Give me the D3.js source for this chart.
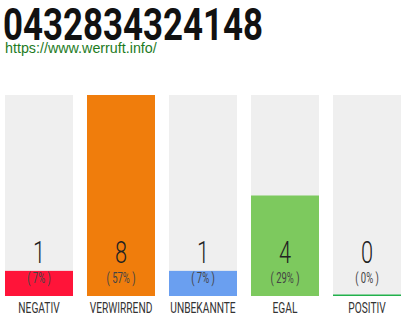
<!DOCTYPE html>
<html>
<head>
<meta charset="utf-8">
<script src="https://cdn.jsdelivr.net/npm/d3@7"></script>
<style>
  html, body { margin: 0; padding: 0; background: #fff; }
  svg { display: block; }
</style>
</head>
<body>
<svg id="chart" width="410" height="320"></svg>
<script>
// Rating summary for one phone number
const title = "0432834324148";
const siteUrl = "https://www.werruft.info/";
const categories = ["NEGATIV", "VERWIRREND", "UNBEKANNTE", "EGAL", "POSITIV"];
const counts = [1, 8, 1, 4, 0];
const percentLabels = ["( 7% )", "( 57% )", "( 7% )", "( 29% )", "( 0% )"];
const barColors = ["#ff1439", "#f07d0c", "#6a9ff0", "#7dc95e", "#22b14c"];

const svg = d3.select("#chart");

// Header
svg.append("text")
  .attr("x", 3).attr("y", 40)
  .attr("font-family", "Roboto, 'Liberation Sans', sans-serif")
  .attr("font-weight", 700)
  .attr("font-size", 44)
  .attr("textLength", 260)
  .attr("lengthAdjust", "spacingAndGlyphs")
  .attr("fill", "#111")
  .text(title);

svg.append("text")
  .attr("x", 5).attr("y", 53)
  .attr("font-family", "'Liberation Sans', Arial, sans-serif")
  .attr("font-size", 14.3)
  .attr("fill", "#1e7b1e")
  .text(siteUrl);

// Scales
const x = d3.scaleBand()
  .domain(categories)
  .range([5, 401])
  .paddingInner(14 / 82)
  .paddingOuter(0);

const y = d3.scaleLinear()
  .domain([0, d3.max(counts)])
  .range([296, 95]);

const data = categories.map((c, i) => ({
  cat: c, count: counts[i], pct: percentLabels[i], color: barColors[i]
}));

const g = svg.append("g");

// Background track for each column
g.selectAll("rect.track")
  .data(data)
  .join("rect")
  .attr("class", "track")
  .attr("x", d => x(d.cat))
  .attr("y", y(d3.max(counts)))
  .attr("width", x.bandwidth())
  .attr("height", y(0) - y(d3.max(counts)))
  .attr("fill", "#efefef");

// Value bars (zero still shows a thin line)
g.selectAll("rect.bar")
  .data(data)
  .join("rect")
  .attr("class", "bar")
  .attr("x", d => x(d.cat))
  .attr("y", d => Math.min(y(d.count), y(0) - 1.5))
  .attr("width", x.bandwidth())
  .attr("height", d => Math.max(y(0) - y(d.count), 1.5))
  .attr("fill", d => d.color);

const condensed = (sel, yPos) =>
  sel.attr("transform", d => `translate(${x(d.cat) + x.bandwidth() / 2},${yPos}) scale(0.68,1)`)
     .attr("text-anchor", "middle");

// Count
g.selectAll("text.count")
  .data(data)
  .join("text")
  .attr("class", "count")
  .call(condensed, 263)
  .attr("font-family", "Roboto, sans-serif")
  .attr("font-weight", 300)
  .attr("font-size", 32)
  .attr("fill", "#222")
  .text(d => d.count);

// Percent
g.selectAll("text.pct")
  .data(data)
  .join("text")
  .attr("class", "pct")
  .call(condensed, 283)
  .attr("font-family", "Roboto, sans-serif")
  .attr("font-weight", 400)
  .attr("font-size", 14)
  .attr("fill", "#444")
  .text(d => d.pct);

// Category label
g.selectAll("text.cat")
  .data(data)
  .join("text")
  .attr("class", "cat")
  .call(condensed, 313)
  .attr("font-family", "Roboto, sans-serif")
  .attr("font-weight", 400)
  .attr("font-size", 15)
  .attr("fill", "#333")
  .text(d => d.cat);
</script>
</body>
</html>
